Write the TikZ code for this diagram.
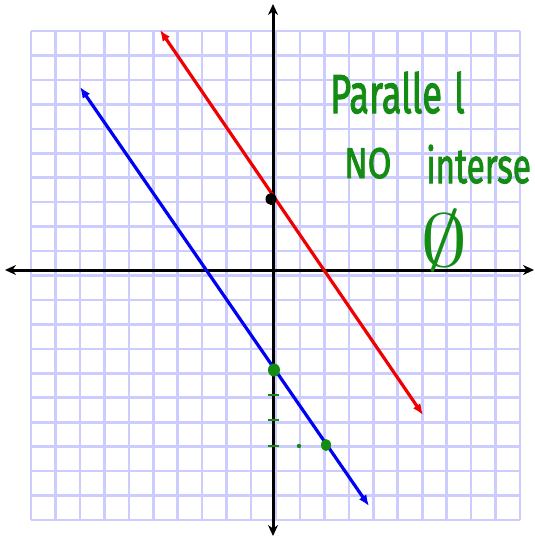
\documentclass[tikz,border=0pt]{standalone}
\usepackage{fontspec}
\newfontfamily\handfont[FakeBold=2.2]{Fira Sans}
\usetikzlibrary{arrows.meta}
\definecolor{gridc}{RGB}{204,204,255}
\definecolor{hand}{RGB}{20,140,20}
\definecolor{redl}{RGB}{240,0,0}
\definecolor{bluel}{RGB}{0,0,245}
\tikzset{
  gridline/.style={draw=gridc,line width=2.6pt},
  axis/.style={draw=black,line width=3pt,{Stealth[length=11pt,width=10pt]}-{Stealth[length=11pt,width=10pt]}},
  graphline/.style={line width=3.2pt,{Latex[length=11pt,width=9pt]}-{Latex[length=11pt,width=9pt]}},
  handtext/.style={text=hand,font=\handfont,anchor=base west,inner sep=0pt},
  greenmark/.style={draw=hand,line width=2pt},
}
\begin{document}
\begin{tikzpicture}[x=1pt,y=-1pt]
\useasboundingbox (0,0) rectangle (535,538);
% grid
\foreach \k in {0,...,20}{
  \pgfmathsetmacro{\p}{31+24.45*\k}
  \draw[gridline] (\p,31) -- (\p,520);
  \draw[gridline] (31,\p) -- (520,\p);
}
% axes
\coordinate (xl) at (5,270);
\coordinate (xr) at (534,270);
\coordinate (yt) at (273,4);
\coordinate (yb) at (273,536);
\draw[axis] (xl) -- (xr);
\draw[axis] (yt) -- (yb);
% red line
\coordinate (r1) at (160,30);
\coordinate (r2) at (423,415);
\draw[graphline,draw=redl,color=redl] (r1) -- (r2);
% blue line
\coordinate (b1) at (80,87);
\coordinate (b2) at (369,506);
\draw[graphline,draw=bluel,color=bluel] (b1) -- (b2);
% black dot (y-intercept of red line)
\fill[black] (271,199) ellipse (5.5 and 6);
% green marks
\fill[hand] (274,370) ellipse (6 and 6.5);
\fill[hand] (326,445) ellipse (5 and 6);
\fill[hand] (299,446) circle (2.2);
\draw[greenmark] (268,395) -- (279,395);
\draw[greenmark] (268,420) -- (279,420);
\draw[greenmark] (268,446) -- (279,446);
% handwritten texts
\node[handtext] (t1) at (330,113) {\fontsize{55}{55}\selectfont\scalebox{0.66}[1]{Paralle\,\,l}};
\node[handtext] (t2) at (344,178) {\fontsize{43}{43}\selectfont\scalebox{0.8}[1]{NO}};
\node[handtext] (t3) at (426,183) {\fontsize{49}{49}\selectfont\scalebox{0.68}[1]{interse}};
\node[text=hand,inner sep=0pt] (t4) at (444,240) {\scalebox{9.5}[7.5]{$\emptyset$}};
\end{tikzpicture}
\end{document}
